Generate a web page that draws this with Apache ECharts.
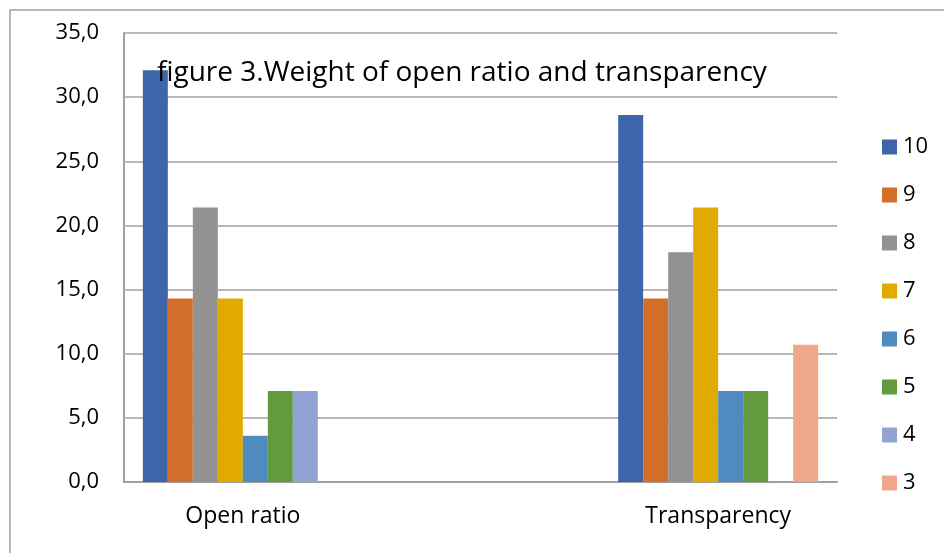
<!DOCTYPE html>
<html>
<head>
<meta charset="utf-8">
<script src="https://cdn.jsdelivr.net/npm/echarts@6/dist/echarts.min.js"></script>
<style>
  html, body { margin: 0; padding: 0; background: #fff; }
  #chart { width: 944px; height: 553px; }
</style>
</head>
<body>
<div id="chart"></div>
<script>
// categories (middle one is an empty slot, as in the source chart)
var categories = ['Open ratio', '', 'Transparency'];
var seriesNames = ['10', '9', '8', '7', '6', '5', '4', '3'];
var seriesColors = ['#3E64AA', '#D46F2B', '#929292', '#E0AA00', '#508BC0', '#629A3E', '#91A4D4', '#F0A88B'];
// values per series: [Open ratio, (empty), Transparency]
var s10 = [32.1, null, 28.6];
var s9 = [14.3, null, 14.3];
var s8 = [21.4, null, 17.9];
var s7 = [14.3, null, 21.4];
var s6 = [3.6, null, 7.1];
var s5 = [7.1, null, 7.1];
var s4 = [7.1, null, null];
var s3 = [null, null, 10.7];
var seriesValues = [s10, s9, s8, s7, s6, s5, s4, s3];
var yTicks = { min: 0, max: 35, interval: 5 };

var font = '"Open Sans", Lato, sans-serif';

var series = [];
for (var i = 0; i < seriesNames.length; i++) {
    series.push({
        name: seriesNames[i],
        type: 'bar',
        data: seriesValues[i],
        barWidth: 25,
        barGap: '0%',
        itemStyle: { color: seriesColors[i] }
    });
}

var myChart = echarts.init(document.getElementById('chart'));
var option = {
    animation: false,
    backgroundColor: '#fff',
    textStyle: { fontFamily: font },
    title: {
        text: 'figure 3.Weight of open ratio and transparency',
        left: 157,
        top: 59,
        padding: 0,
        textStyle: { fontFamily: font, fontSize: 28, fontWeight: 'normal', color: '#000' }
    },
    legend: {
        orient: 'vertical',
        left: 882,
        top: 136,
        padding: 0,
        icon: 'rect',
        itemWidth: 15,
        itemHeight: 15,
        itemGap: 26,
        textStyle: { fontFamily: font, fontSize: 22, lineHeight: 22, color: '#000', padding: [0, 0, 0, 1] },
        data: seriesNames
    },
    grid: { left: 124, right: 107, top: 33, bottom: 71 },
    xAxis: {
        type: 'category',
        data: categories,
        axisTick: { show: false },
        axisLine: { lineStyle: { color: '#a0a0a0', width: 2 } },
        axisLabel: { fontFamily: font, fontSize: 23, color: '#000', margin: 23 }
    },
    yAxis: {
        type: 'value',
        min: yTicks.min,
        max: yTicks.max,
        interval: yTicks.interval,
        axisLine: { show: true, lineStyle: { color: '#a0a0a0', width: 2 } },
        axisTick: { show: false },
        splitLine: { lineStyle: { color: '#a0a0a0', width: 1.5 } },
        axisLabel: {
            fontFamily: font, fontSize: 22, color: '#000', margin: 25,
            formatter: function (v) { return v.toFixed(1).replace('.', ','); }
        }
    },
    graphic: [{
        type: 'rect',
        shape: { x: 10, y: 10, width: 1000, height: 600 },
        style: { fill: 'none', stroke: '#a0a0a0', lineWidth: 1.5 },
        silent: true
    }],
    series: series
};
myChart.setOption(option);
</script>
</body>
</html>
